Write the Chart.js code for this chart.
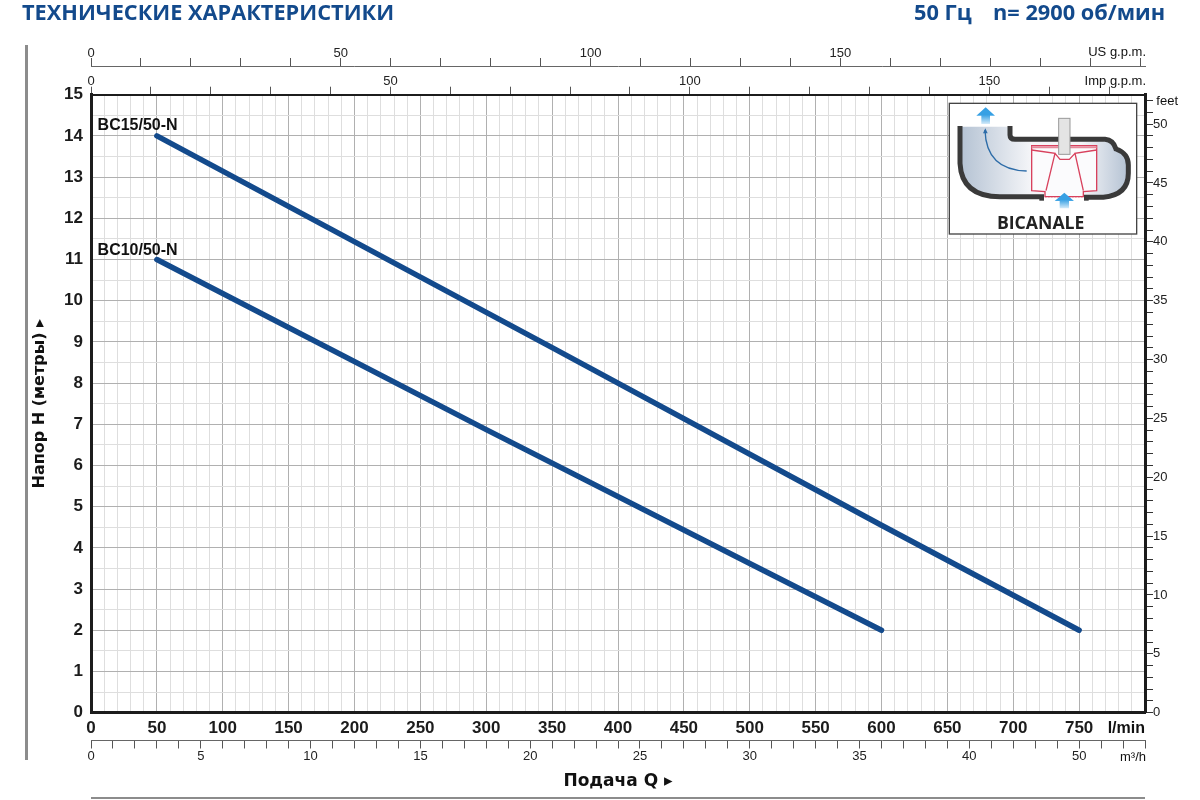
<!DOCTYPE html>
<html lang="ru">
<head>
<meta charset="utf-8">
<title>BC 50-N</title>
<script src="https://cdn.jsdelivr.net/npm/chart.js@4"></script>
<style>
    html, body { margin: 0; padding: 0; background: #fff; }
    #wrap { position: relative; width: 1200px; height: 800px; overflow: hidden; }
    #myChart { display: block; }
    #inset { position: absolute; left: 880px; top: 0; pointer-events: none; }
</style>
</head>
<body>
<div id="wrap">
    <canvas id="myChart" width="1200" height="800"></canvas>
    <!-- схема насоса, координаты как на увеличенном фрагменте -->
    <svg id="inset" width="320" height="250" viewBox="0 0 960 750">
        <defs>
            <linearGradient id="water" x1="0" x2="1" y1="0" y2="0">
                <stop offset="0" stop-color="#b4c2d3"/>
                <stop offset="0.42" stop-color="#f4f5f8"/>
                <stop offset="0.72" stop-color="#f4f5f8"/>
                <stop offset="1" stop-color="#b4c2d3"/>
            </linearGradient>
            <linearGradient id="arrow" x1="0" x2="0" y1="0" y2="1">
                <stop offset="0.45" stop-color="#36a0e4"/>
                <stop offset="1" stop-color="#d5ebf9"/>
            </linearGradient>
        </defs>
        <rect x="208" y="310" width="562" height="392" fill="#fff" stroke="#444" stroke-width="4"/>
        <path d="M240 380 H390 V418 H680 Q700 420 708 445 Q745 460 745 500 V520 Q745 590 650 590 H340 Q240 585 240 490 Z" fill="url(#water)"/>
        <path d="M240 378 V490 Q245 590 360 590 H492 M612 592 H670 Q745 585 745 520 V495 Q745 460 708 447 Q700 420 675 418 H405 Q390 418 390 405 V378" fill="none" stroke="#3a3a3a" stroke-width="15"/>
        <rect x="478" y="585" width="14" height="17" fill="#3a3a3a"/>
        <rect x="612" y="585" width="14" height="17" fill="#3a3a3a"/>
        <path d="M455 437 H650 V572 L610 575 V590 H495 V575 L455 572 Z" fill="#fbfbfd" stroke="#d8415d" stroke-width="4"/>
        <path d="M455 450 L525 460 L498 572 M650 450 L585 460 L610 572 M525 460 L540 478 H568 L585 460" fill="none" stroke="#d8415d" stroke-width="4"/>
        <path d="M455 442 H650" stroke="#e58a9c" stroke-width="6"/>
        <path d="M495 590 H610" stroke="#d8415d" stroke-width="4" stroke-dasharray="5 4"/>
        <rect x="536" y="355" width="34" height="108" fill="#e4e4e4" stroke="#999" stroke-width="3"/>
        <path d="M315 390 Q318 510 440 513" fill="none" stroke="#2d6ca8" stroke-width="4"/>
        <path d="M316 385 L309 400 H323 Z" fill="#2d6ca8"/>
        <path d="M317 322 L345 347 H330 V372 H304 V347 H289 Z" fill="url(#arrow)"/>
        <path d="M553 578 L582 603 H567 V625 H539 V603 H524 Z" fill="url(#arrow)"/>
        <text x="482" y="688" text-anchor="middle" font-family="'Open Sans'" font-weight="700" font-size="53" fill="#222">BICANALE</text>
    </svg>
</div>
<script>
// Ось расхода и напора
const flowTicks = [0, 50, 100, 150, 200, 250, 300, 350, 400, 450, 500, 550, 600, 650, 700, 750];
const headTicks = [0, 1, 2, 3, 4, 5, 6, 7, 8, 9, 10, 11, 12, 13, 14, 15];
const usTicks = [0, 50, 100, 150];
const impTicks = [0, 50, 100, 150];
const m3hLabels = ['0', '5', '10', '15', '20', '25', '30', '35', '40', '50'];

// Кривые насосов
const flowBC15 = [50, 350, 600, 750];
const headBC15 = [14, 8.86, 4.55, 2];
const flowBC10 = [50, 300, 500, 600];
const headBC10 = [11, 6.87, 3.62, 2];

const blue = '#134a8c';
const sans = '"Liberation Sans", sans-serif';

const points = (xs, ys) => xs.map((x, i) => ({ x: x, y: ys[i] }));

const fixHeight = (h) => (scale) => { scale.height = h; };
const fixWidth = (w) => (scale) => { scale.width = w; };

// второстепенная шкала: только штрихи снаружи графика
const sideAxis = (position, min, max, step, padding, label) => ({
    type: 'linear',
    position: position,
    min: min,
    max: max,
    grid: { drawOnChartArea: false, tickLength: 8, tickColor: '#555', tickWidth: 1 },
    border: { color: '#666', width: 1 },
    ticks: {
        stepSize: step,
        autoSkip: false,
        includeBounds: false,
        maxRotation: 0,
        padding: padding,
        color: '#222',
        font: { family: sans, size: 13 },
        callback: label
    }
});

const annotations = {
    id: 'annotations',
    afterDraw(chart) {
        const { ctx, scales } = chart;
        ctx.save();
        ctx.textBaseline = 'alphabetic';

        // заголовок
        ctx.fillStyle = blue;
        ctx.font = 'bold 21.75px "Open Sans"';
        ctx.fillText('ТЕХНИЧЕСКИЕ ХАРАКТЕРИСТИКИ', 22, 20);
        ctx.fillText('50 Гц', 914, 20);
        ctx.fillText('n= 2900 об/мин', 993, 20);

        // подписи кривых
        ctx.fillStyle = '#111';
        ctx.font = 'bold 16px ' + sans;
        ctx.fillText('BC15/50-N', scales.x.getPixelForValue(5), 130);
        ctx.fillText('BC10/50-N', scales.x.getPixelForValue(5), 255);

        // единицы на концах шкал
        ctx.textAlign = 'right';
        ctx.font = 'bold 16px ' + sans;
        ctx.fillText('l/min', scales.x.right, 733);
        ctx.font = '13px ' + sans;
        ctx.fillText('US g.p.m.', 1146, 56);
        ctx.fillText('Imp g.p.m.', 1146, 85);
        ctx.fillText('m³/h', 1146, 761);
        ctx.fillText('feet', 1178, 105);

        // серые линии по краям листа
        ctx.fillStyle = '#8c8c8c';
        ctx.fillRect(25, 45, 3, 715);
        ctx.fillRect(scales.x.left, 797, scales.x.right - scales.x.left, 2);
        ctx.restore();
    }
};

const ctx = document.getElementById('myChart').getContext('2d');

const myChart = new Chart(ctx, {
    type: 'line',
    data: {
        datasets: [{
            label: 'BC15/50-N',
            data: points(flowBC15, headBC15),
            borderColor: blue,
            borderWidth: 5.5,
            borderCapStyle: 'round',
            pointRadius: 0
        }, {
            label: 'BC10/50-N',
            data: points(flowBC10, headBC10),
            borderColor: blue,
            borderWidth: 5.5,
            borderCapStyle: 'round',
            pointRadius: 0
        }]
    },
    options: {
        responsive: false,
        animation: false,
        layout: { padding: 0 },
        plugins: { legend: { display: false }, title: { display: false }, tooltip: { enabled: false } },
        scales: {
            x: {
                type: 'linear',
                position: 'bottom',
                weight: 0,
                min: 0,
                max: 800,
                afterFit: fixHeight(27.8),
                grid: {
                    drawTicks: false,
                    color: (c) => (c.tick && c.tick.value % 50 === 0 ? '#b0b0b0' : '#dedede')
                },
                border: { color: '#1c1c1c', width: 3 },
                ticks: {
                    stepSize: 10,
                    autoSkip: false,
                    includeBounds: false,
                    maxRotation: 0,
                    padding: 5,
                    color: '#1c1c1c',
                    font: { family: sans, size: 17, weight: 'bold' },
                    callback: (v) => (flowTicks.includes(v) ? String(v) : '')
                }
            },
            m3h: Object.assign(sideAxis('bottom', 0, 48, 1, 0, (v) => (v % 5 === 0 ? m3hLabels[v / 5] : '')), {
                weight: 1,
                afterFit: fixHeight(59.5),
                title: {
                    display: true,
                    text: 'Подача Q ▸',
                    color: '#111',
                    font: { family: 'DejaVu Sans', size: 17, weight: 'bold' },
                    padding: { top: 0, bottom: 8 }
                }
            }),
            y: {
                type: 'linear',
                position: 'left',
                min: 0,
                max: 15,
                afterFit: fixWidth(91),
                grid: {
                    drawTicks: false,
                    color: (c) => (c.tick && c.tick.value % 1 === 0 ? '#b0b0b0' : '#dedede')
                },
                border: { color: '#1c1c1c', width: 3 },
                title: {
                    display: true,
                    text: 'Напор H (метры) ▸',
                    color: '#111',
                    font: { family: 'DejaVu Sans', size: 16, weight: 'bold' },
                    padding: { top: 30, bottom: 0 }
                },
                ticks: {
                    stepSize: 0.5,
                    autoSkip: false,
                    includeBounds: false,
                    padding: 8,
                    color: '#1c1c1c',
                    font: { family: sans, size: 17, weight: 'bold' },
                    callback: (v) => (headTicks.includes(v) ? String(v) : '')
                }
            },
            feet: Object.assign(sideAxis('right', 0, 52.5, 1, 0, (v) => (v % 5 === 0 ? String(v) : '')), {
                afterFit: fixWidth(55),
                border: { color: '#1c1c1c', width: 3 },
                grid: { drawOnChartArea: false, tickLength: 8, tickColor: '#333', tickWidth: 1 }
            }),
            imp: Object.assign(sideAxis('top', 0, 176, 10, -3, (v) => (impTicks.includes(v) ? String(v) : '')), {
                weight: 0,
                afterFit: fixHeight(28.7),
                border: { color: '#1c1c1c', width: 2 }
            }),
            us: Object.assign(sideAxis('top', 0, 211, 10, -3, (v) => (usTicks.includes(v) ? String(v) : '')), {
                weight: 1,
                afterFit: fixHeight(66)
            })
        }
    },
    plugins: [annotations]
});
</script>
</body>
</html>
